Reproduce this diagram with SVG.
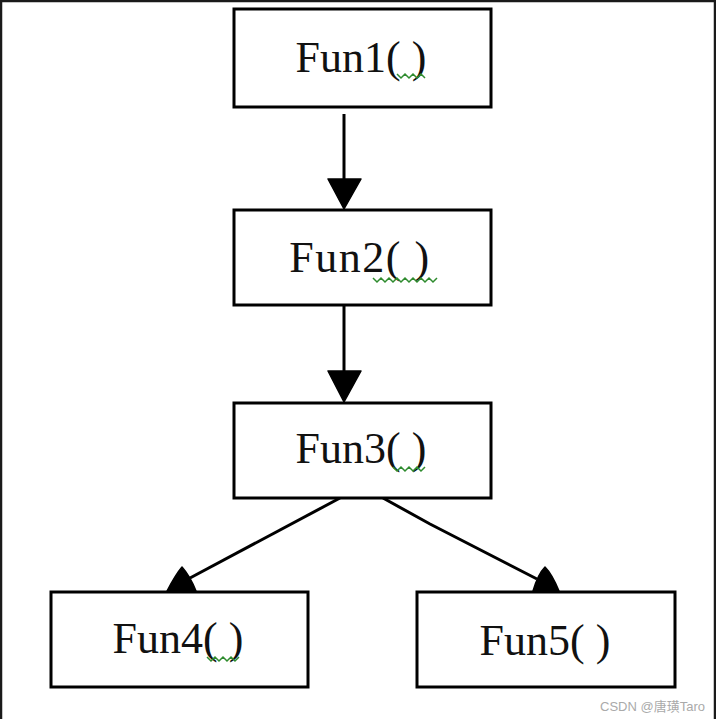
<svg xmlns="http://www.w3.org/2000/svg" width="716" height="719" viewBox="0 0 716 719">
<style>
.box{fill:#fff;stroke:#000;stroke-width:3}
.lbl{font-family:"Liberation Serif","DejaVu Serif",serif;font-size:44px;fill:#111;text-anchor:middle}
.conn{stroke:#000;stroke-width:3;fill:none}
.head{fill:#000;stroke:#000;stroke-width:1.5;stroke-linejoin:round}
.sq{fill:none;stroke:#2e8b2e;stroke-width:1.5}
</style>
<rect x="0" y="0" width="716" height="719" fill="#fff"/>
<path d="M1,719 V1 H715 V719" fill="none" stroke="#1a1a1a" stroke-width="2.5"/>
<g id="connectors">
<line class="conn" x1="344" y1="114" x2="344" y2="180"/>
<polygon class="head" points="328,179 361,179 344,209"/>
<line class="conn" x1="344" y1="305" x2="344" y2="372"/>
<polygon class="head" points="328,371 361,371 344,402"/>
<path class="conn" d="M340,498 L190,578"/>
<path class="head" d="M182,567 Q176,574 167,591 L196,591 Q190,576 182,567 Z"/>
<path class="conn" d="M383,498 L430,524 L537,579"/>
<path class="head" d="M545,567 Q538,574 533,591 L559,591 Q552,574 545,567 Z"/>
</g>
<g id="fun1">
<rect class="box" x="234" y="9" width="257" height="98"/>
<text class="lbl" x="361" y="72">Fun1( )</text>
<path class="sq" d="M397,74 l4,4 l4,-4 l4,4 l4,-4 l4,4 l4,-4 l4,4"/>
</g>
<g id="fun2">
<rect class="box" x="234" y="210" width="257" height="95"/>
<text class="lbl" x="360" y="272" letter-spacing="1.5">Fun2( )</text>
<path class="sq" d="M373,278 l4,4 l4,-4 l4,4 l4,-4 l4,4 l4,-4 l4,4 l4,-4 l4,4 l4,-4 l4,4 l4,-4 l4,4 l4,-4 l4,4 l4,-4"/>
</g>
<g id="fun3">
<rect class="box" x="234" y="403" width="257" height="95"/>
<text class="lbl" x="361" y="463">Fun3( )</text>
<path class="sq" d="M393,467 l4,4 l4,-4 l4,4 l4,-4 l4,4 l4,-4 l4,4 l4,-4"/>
</g>
<g id="fun4">
<rect class="box" x="51" y="592" width="257" height="95"/>
<text class="lbl" x="178" y="653">Fun4( )</text>
<path class="sq" d="M207,657 l4,4 l4,-4 l4,4 l4,-4 l4,4 l4,-4 l4,4 l4,-4"/>
</g>
<g id="fun5">
<rect class="box" x="417" y="592" width="258" height="95"/>
<text class="lbl" x="545" y="655">Fun5( )</text>
</g>
<text x="705" y="711" font-family="'Liberation Sans','Noto Sans CJK SC',sans-serif" font-size="13" fill="#aaa" text-anchor="end">CSDN @唐璜Taro</text>
</svg>
